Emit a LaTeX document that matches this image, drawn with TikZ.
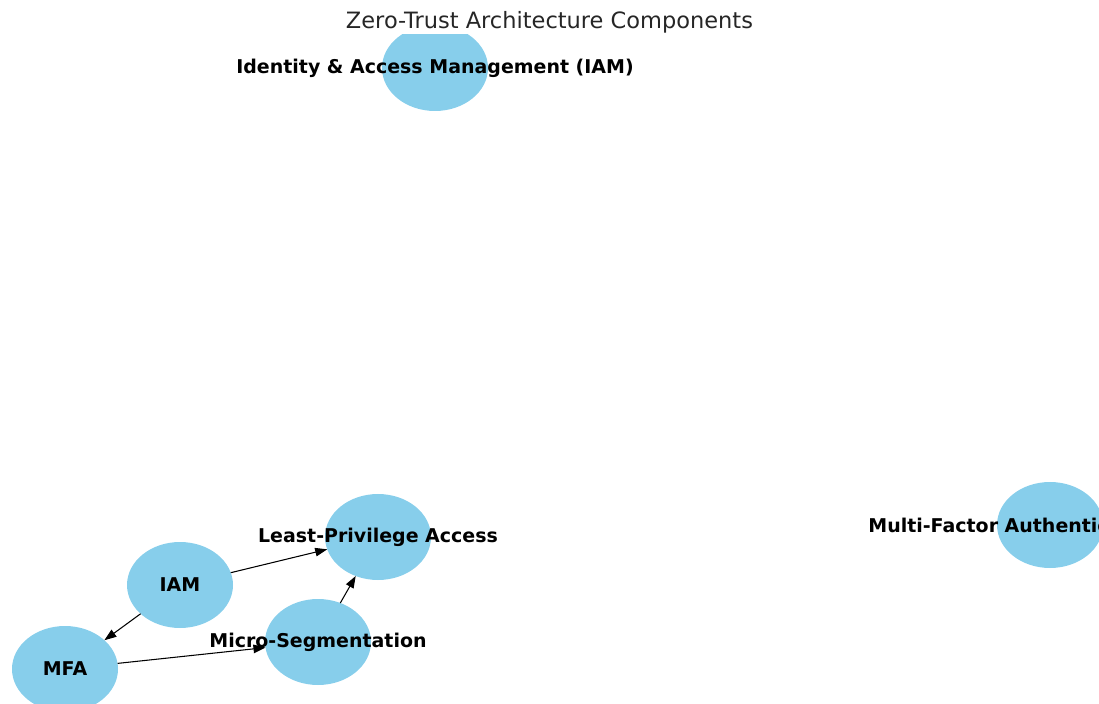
\documentclass[tikz,border=0pt]{standalone}
\usepackage{fontspec}
\setmainfont{DejaVu Sans}
\usepackage{tikz}
\usetikzlibrary{shapes.geometric, arrows.meta, positioning}
\definecolor{nodeblue}{HTML}{87CEEB}

\begin{document}
\begin{tikzpicture}
    \tikzset{comp/.style={ellipse, fill=nodeblue, draw=none, inner sep=0pt,
                          outer sep=0pt, minimum width=2.12cm, minimum height=1.72cm},
             complabel/.style={font=\bfseries\fontsize{10.8}{13}\selectfont, inner sep=0pt},
             link/.style={-{Triangle[length=2.4mm, width=1.7mm]}, line width=0.6pt, black}}
    \useasboundingbox (0,0) rectangle (21.98,14.06);
    \node[font=\fontsize{12.8}{15}\selectfont, text=black!85] (title) at (10.99, 13.62)
      {Zero-Trust Architecture Components};
    \begin{scope}
      \clip (0,0) rectangle (21.98,13.36);
      \node[comp] (idm) at (8.70, 12.70) {};
      \node[comp] (lpa) at (7.56, 3.32) {};
      \node[comp] (iam) at (3.60, 2.36) {};
      \node[comp] (mfa) at (1.30, 0.68) {};
      \node[comp] (mseg) at (6.36, 1.22) {};
      \node[comp] (mfauth) at (21.00, 3.56) {};
    \end{scope}
    \foreach \a/\b in {iam/lpa, iam/mfa, mfa/mseg, mseg/lpa}
      \draw[link] (\a) -- (\b);
    \node[complabel] at (idm) {Identity \& Access Management (IAM)};
    \node[complabel] at (lpa) {Least-Privilege Access};
    \node[complabel] at (iam) {IAM};
    \node[complabel] at (mfa) {MFA};
    \node[complabel] at (mseg) {Micro-Segmentation};
    \node[complabel, anchor=west] at (17.36, 3.56) {Multi-Factor Authentication};
\end{tikzpicture}
\end{document}
